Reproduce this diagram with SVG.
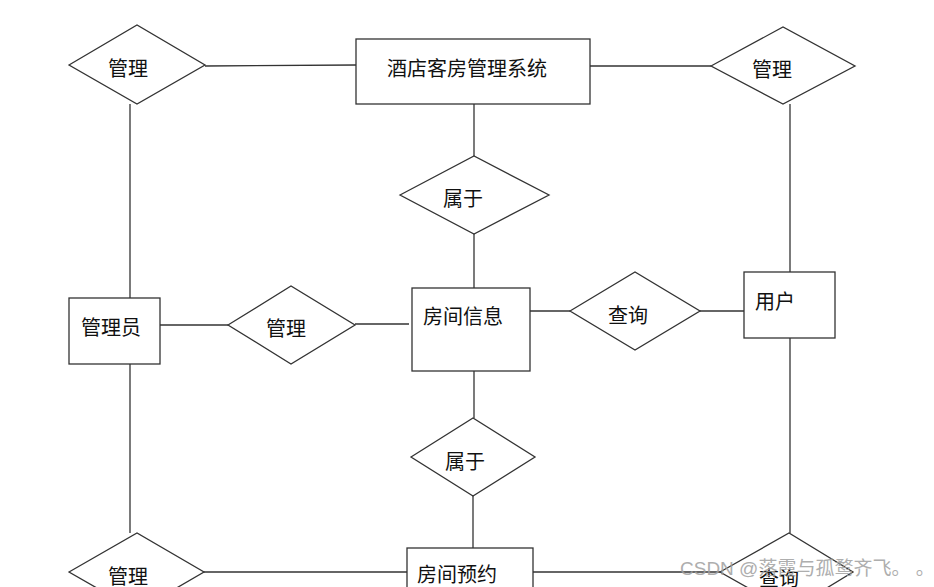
<svg xmlns="http://www.w3.org/2000/svg" width="934" height="587" viewBox="0 0 934 587">
<style>
.shape{fill:#fff;stroke:#333;stroke-width:1.3}
.ln{stroke:#333;stroke-width:1.3;fill:none}
.t{font-family:"Noto Sans CJK SC","Microsoft YaHei",sans-serif;font-size:20px;fill:#111;text-anchor:middle;dominant-baseline:central}
.wm{font-family:"Liberation Sans","Noto Sans CJK SC",sans-serif;font-size:19px;fill:#a0a0a0;opacity:0.85}
</style>
<rect width="934" height="587" fill="#fff"/>
<g id="connectors">
<line class="ln" x1="205" y1="66" x2="356" y2="65"/>
<line class="ln" x1="590" y1="66" x2="711" y2="66"/>
<line class="ln" x1="790" y1="104" x2="790" y2="272"/>
<line class="ln" x1="474" y1="104" x2="474" y2="156"/>
<line class="ln" x1="474" y1="234" x2="474" y2="288"/>
<line class="ln" x1="527" y1="311" x2="570" y2="311"/>
<line class="ln" x1="700" y1="311" x2="744" y2="311"/>
<line class="ln" x1="130" y1="104" x2="130" y2="298"/>
<line class="ln" x1="160" y1="325" x2="228" y2="325"/>
<line class="ln" x1="355" y1="324" x2="409" y2="324"/>
<line class="ln" x1="474" y1="371" x2="474" y2="418"/>
<line class="ln" x1="473" y1="496" x2="473" y2="548"/>
<line class="ln" x1="130" y1="364" x2="130" y2="533"/>
<line class="ln" x1="204" y1="572" x2="407" y2="572"/>
<line class="ln" x1="533" y1="572" x2="720" y2="572"/>
<line class="ln" x1="790" y1="338" x2="790" y2="533"/>
</g>
<g id="rel-manage-1"><polygon class="shape" points="69,65 137,25 205,65 137,104"/><text class="t" x="128" y="67">管理</text></g>
<g id="system"><rect class="shape" x="356" y="39" width="234" height="65"/><text class="t" x="467" y="67">酒店客房管理系统</text></g>
<g id="rel-manage-2"><polygon class="shape" points="711,66 783,27 855,66 783,104"/><text class="t" x="772" y="68">管理</text></g>
<g id="rel-belong-1"><polygon class="shape" points="400,195 474,156 549,195 474,234"/><text class="t" x="463" y="197">属于</text></g>
<g id="room-info"><rect class="shape" x="412" y="288" width="118" height="83"/><text class="t" x="463" y="315">房间信息</text></g>
<g id="rel-query-1"><polygon class="shape" points="570,311 635,272 700,311 635,350"/><text class="t" x="628" y="314">查询</text></g>
<g id="user"><rect class="shape" x="744" y="272" width="91" height="66"/><text class="t" x="775" y="300">用户</text></g>
<g id="admin"><rect class="shape" x="69" y="298" width="91" height="66"/><text class="t" x="111" y="326">管理员</text></g>
<g id="rel-manage-3"><polygon class="shape" points="228,325 291,286 355,325 291,364"/><text class="t" x="286" y="327">管理</text></g>
<g id="rel-belong-2"><polygon class="shape" points="411,457 473,418 535,457 473,496"/><text class="t" x="465" y="460">属于</text></g>
<g id="room-booking"><rect class="shape" x="407" y="548" width="126" height="60"/><text class="t" x="457" y="573">房间预约</text></g>
<g id="rel-manage-4"><polygon class="shape" points="69,572 137,533 204,572 137,611"/><text class="t" x="128" y="575">管理</text></g>
<g id="rel-query-2"><polygon class="shape" points="720,572 789,533 853,572 789,611"/><text class="t" x="779" y="577">查询</text></g>
<text class="wm" x="680" y="575">CSDN @落霞与孤鹜齐飞。 。</text>
</svg>
